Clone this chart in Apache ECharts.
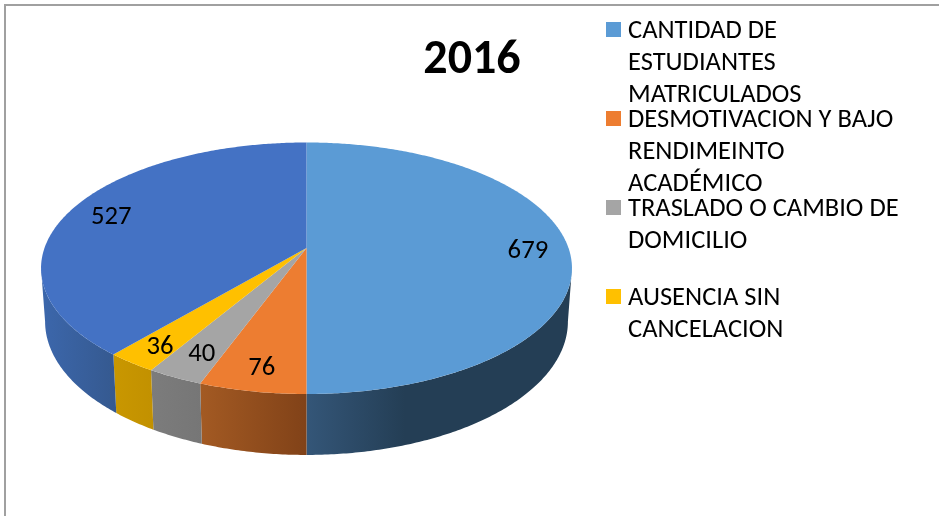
<!DOCTYPE html>
<html>
<head>
<meta charset="utf-8">
<style>
  html, body { margin: 0; padding: 0; background: #fff; }
  #chart { width: 939px; height: 516px; }
</style>
<script src="https://cdn.jsdelivr.net/npm/echarts@6/dist/echarts.min.js"></script>
</head>
<body>
<div id="chart"></div>
<script>
const chartTitle = '2016';
const categories = [
  'CANTIDAD DE\nESTUDIANTES\nMATRICULADOS',
  'DESMOTIVACION Y BAJO\nRENDIMEINTO\nACADÉMICO',
  'TRASLADO O CAMBIO DE\nDOMICILIO',
  'AUSENCIA SIN\nCANCELACION'
];
const values = [679, 76, 40, 36, 527];
// the fifth slice has no legend entry in the original
const topColors = ['#5B9BD5', '#ED7D31', '#A5A5A5', '#FFC000', '#4472C4'];
const sideColors = [
  ['#345678', '#243E55'],
  ['#A35A23', '#814218'],
  ['#7C7C7C', '#767676'],
  ['#C99700', '#C29100'],
  ['#3C67AC', '#35598F']
];

const fontFamily = 'Carlito, Calibri, Lato, sans-serif';

// tilted disc, a circle seen in perspective
const cx = 306.5;
const topY = 248, topA = 122.5, topB = 262;
const lowY = 300, lowA = 130, lowB = 258;
const k = 0.161;
const labelRadius = [0.845, 0.845, 0.82, 0.855, 0.83];
const rimAngle = Math.acos(-k);   // angle where the disc is widest

const total = values.reduce((a, b) => a + b, 0);

function project(angle, r, originY, a, b) {
  const x = Math.sin(angle) * r;
  const y = -Math.cos(angle) * r;
  const d = 1 - k * y;
  return [cx + b * x / d, originY + a * y / d];
}
const topPoint = (angle, r) => project(angle, r, topY, topA, topB);
const lowPoint = (angle) => project(angle, 1, lowY, lowA, lowB);

function arcAngles(from, to) {
  const steps = Math.max(2, Math.ceil((to - from) / 0.01));
  const out = [];
  for (let i = 0; i <= steps; i++) out.push(from + (to - from) * i / steps);
  return out;
}

function renderSlice(params) {
  const i = params.dataIndex;
  let start = 0;
  for (let j = 0; j < i; j++) start += values[j];
  const a0 = start / total * Math.PI * 2;
  const a1 = (start + values[i]) / total * Math.PI * 2;
  const children = [];

  // side wall, only the part facing the viewer
  const s0 = Math.max(a0, rimAngle);
  const s1 = Math.min(a1, Math.PI * 2 - rimAngle);
  if (s1 > s0) {
    const angles = arcAngles(s0, s1);
    const pts = angles.map(a => topPoint(a, 1))
      .concat(angles.slice().reverse().map(a => lowPoint(a)));
    // the big slice goes dark early and stays flat
    const stops = i === 0
      ? [{ offset: 0, color: sideColors[i][0] }, { offset: 0.37, color: sideColors[i][1] }, { offset: 1, color: sideColors[i][1] }]
      : [{ offset: 0, color: sideColors[i][0] }, { offset: 1, color: sideColors[i][1] }];
    children.push({
      type: 'polygon',
      shape: { points: pts },
      style: {
        fill: new echarts.graphic.LinearGradient(0, 0, 1, 0, stops)
      }
    });
  }

  // top face
  const topPts = [[cx, topY]].concat(arcAngles(a0, a1).map(a => topPoint(a, 1)));
  children.push({
    type: 'polygon',
    shape: { points: topPts },
    style: { fill: topColors[i] }
  });
  return { type: 'group', children };
}

function renderLabel(params) {
  const i = params.dataIndex;
  let start = 0;
  for (let j = 0; j < i; j++) start += values[j];
  const mid = (start + values[i] / 2) / total * Math.PI * 2;
  const p = topPoint(mid, labelRadius[i]);
  return {
    type: 'text',
    x: p[0],
    y: p[1] + 3,
    style: {
      text: String(values[i]),
      fill: '#000',
      font: '26.7px ' + fontFamily,
      align: 'center',
      verticalAlign: 'middle'
    }
  };
}

// legend is drawn by hand, the entries overlap on a fixed pitch like the original
const legendItems = [];
categories.forEach((name, i) => {
  const y = 22 + i * 89;
  legendItems.push({
    type: 'rect',
    shape: { x: 606, y: y, width: 15, height: 15 },
    style: { fill: topColors[i] }
  });
  name.split('\n').forEach((line, n) => {
    legendItems.push({
      type: 'text',
      x: 628,
      y: y + 9 + n * 32,
      style: {
        text: line,
        fill: '#000',
        font: '26.5px ' + fontFamily,
        verticalAlign: 'middle'
      }
    });
  });
});

const chart = echarts.init(document.getElementById('chart'), null, { renderer: 'canvas' });
chart.setOption({
  animation: false,
  backgroundColor: '#fff',
  title: {
    text: chartTitle,
    left: 467,
    top: 32,
    textAlign: 'center',
    textStyle: { fontFamily, fontSize: 48, fontWeight: 'bold', color: '#000' }
  },
  graphic: [
    {
      type: 'polyline',
      shape: { points: [[5, 516], [5, 5], [939, 5]] },
      style: { stroke: '#A0A0A0', lineWidth: 2, fill: null }
    }
  ].concat(legendItems),
  series: [
    {
      type: 'custom',
      coordinateSystem: 'none',
      renderItem: renderSlice,
      data: values,
      silent: true
    },
    {
      type: 'custom',
      coordinateSystem: 'none',
      renderItem: renderLabel,
      data: values,
      silent: true,
      z: 5
    }
  ]
});
window.addEventListener('resize', () => chart.resize());
</script>
</body>
</html>
